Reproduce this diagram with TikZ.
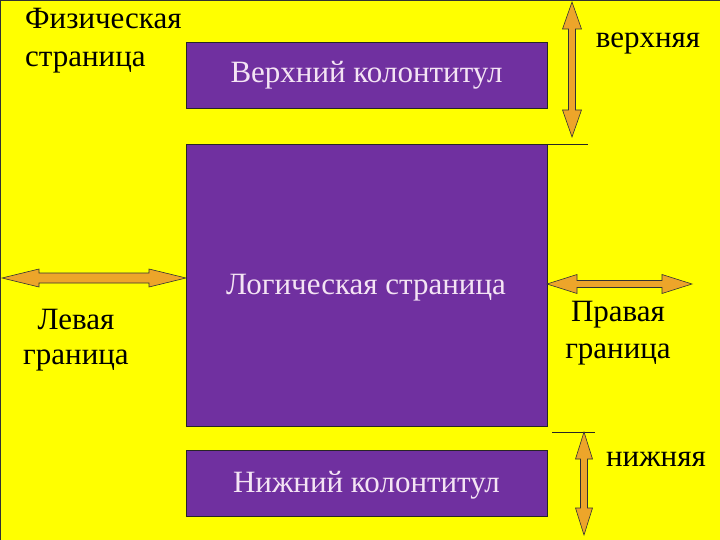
\documentclass[tikz,border=0pt]{standalone}
\usepackage{fontspec}
\setmainfont{Liberation Serif}
\definecolor{bgyellow}{HTML}{FFFF00}
\definecolor{boxpurple}{HTML}{7030A0}
\definecolor{arroworange}{HTML}{EDA52A}
\definecolor{boxtext}{HTML}{F4E4F4}
\newcommand\myVArrow[6]{% x, y1, y2, headlen, headhalf, bodyhalf
  \filldraw[arrowst] (#1,#2) -- ({#1+#5},{#2+#4}) -- ({#1+#6},{#2+#4}) -- ({#1+#6},{#3-#4}) -- ({#1+#5},{#3-#4}) -- (#1,#3) -- ({#1-#5},{#3-#4}) -- ({#1-#6},{#3-#4}) -- ({#1-#6},{#2+#4}) -- ({#1-#5},{#2+#4}) -- cycle;}
\newcommand\myHArrow[6]{% y, x1, x2, headlen, headhalf, bodyhalf
  \filldraw[arrowst] (#2,#1) -- ({#2+#4},{#1-#5}) -- ({#2+#4},{#1-#6}) -- ({#3-#4},{#1-#6}) -- ({#3-#4},{#1-#5}) -- (#3,#1) -- ({#3-#4},{#1+#5}) -- ({#3-#4},{#1+#6}) -- ({#2+#4},{#1+#6}) -- ({#2+#4},{#1+#5}) -- cycle;}
\tikzset{
  arrowst/.style={fill=arroworange, draw=black!80, line width=0.6pt, line join=miter},
  pagebox/.style={fill=boxpurple, draw=black!85, line width=0.8pt},
  boxlabel/.style={text=boxtext, font=\fontsize{31}{36}\selectfont, inner sep=0pt},
  outlabel/.style={text=black, font=\fontsize{31}{36}\selectfont, align=center, inner sep=0pt},
  guide/.style={draw=black!85, line width=0.8pt}
}
\begin{document}
\begin{tikzpicture}[x=1pt,y=-1pt]
\useasboundingbox (0,0) rectangle (720,540);
\fill[bgyellow] (0,0) rectangle (720,540);
\draw[black!80, line width=1pt] (0.5,540) -- (0.5,0.5) -- (720,0.5);
% boxes
\draw[pagebox] (186,42) rectangle (547,108);
\draw[pagebox] (186,144) rectangle (547,426);
\draw[pagebox] (186,450) rectangle (547,516);
\node[boxlabel] (hdr) at (366.5,75) {Верхний колонтитул};
\node[boxlabel] (log) at (366,288) {Логическая страница};
\node[boxlabel] (ftr) at (366.5,485) {Нижний колонтитул};
% guide lines
\draw[guide] (547,144) -- (588,144);
\draw[guide] (552,432) -- (595,432);
% arrows
\myVArrow{572}{2}{137}{27}{9.5}{3.5}
\myVArrow{584}{432}{535}{27}{8.5}{3.5}
\myHArrow{278}{2}{186}{37}{9}{5}
\myHArrow{284}{547}{692}{30}{9.5}{3.5}
% labels
\node[outlabel, align=left, anchor=north west, font=\fontsize{31}{38}\selectfont] (phys) at (25,8) {Физическая\\страница};
\node[outlabel] (top) at (648,43) {верхняя};
\node[outlabel] (bot) at (656,459) {нижняя};
\node[outlabel, font=\fontsize{31}{35}\selectfont] (left) at (76,340) {Левая\\граница};
\node[outlabel, font=\fontsize{31}{37}\selectfont] (right) at (618,333) {Правая\\граница};
\end{tikzpicture}
\end{document}
